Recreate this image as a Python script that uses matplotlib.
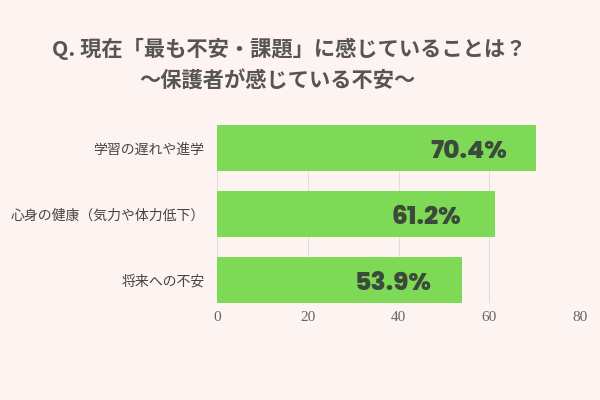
import matplotlib
matplotlib.use('Agg')
import matplotlib.pyplot as plt

plt.rcParams['font.family'] = ['Noto Sans CJK JP', 'DejaVu Sans']

categories = ['学習の遅れや進学', '心身の健康（気力や体力低下）', '将来への不安']
values = [70.4, 61.2, 53.9]
labels = ['70.4%', '61.2%', '53.9%']
xticks = [0, 20, 40, 60, 80]

bg = '#fdf3f1'
green = '#7ed957'

fig = plt.figure(figsize=(6, 4), dpi=100, facecolor=bg)
ax = fig.add_axes([0.3617, 0.2425, 0.605, 0.445], facecolor=bg)

ypos = list(range(len(categories)))
ax.barh(ypos, values, height=0.694, color=green, zorder=3)

for y, v, lab in zip(ypos, values, labels):
    ax.text(v - 15, y + 0.07, lab, ha='center', va='center', fontsize=18,
            fontweight='heavy', color='#3c4a3b', family=['Poppins', 'DejaVu Sans'], zorder=4)

ax.set_xlim(0, 80)
ax.set_ylim(2.347, -0.347)
ax.set_xticks(xticks)
ax.set_xticklabels([str(t) for t in xticks], family=['Liberation Serif'], fontsize=11, color='#666666')
ax.set_yticks(ypos)
ax.set_yticklabels(categories, fontsize=10, color='#444444')
ax.tick_params(length=0)
ax.tick_params(axis='y', pad=9)
ax.tick_params(axis='x', pad=6)
ax.grid(axis='x', color='#e2dcdc', linewidth=0.8, zorder=0)
for s in ax.spines.values():
    s.set_visible(False)

fig.text(0.482, 0.878, 'Q. 現在「最も不安・課題」に感じていることは？', ha='center', va='center',
         fontsize=15.3, fontweight='bold', color='#555555')
fig.text(0.463, 0.798, '〜保護者が感じている不安〜', ha='center', va='center',
         fontsize=15.3, fontweight='bold', color='#555555')

fig.savefig('out.png', dpi=100, facecolor=bg)
